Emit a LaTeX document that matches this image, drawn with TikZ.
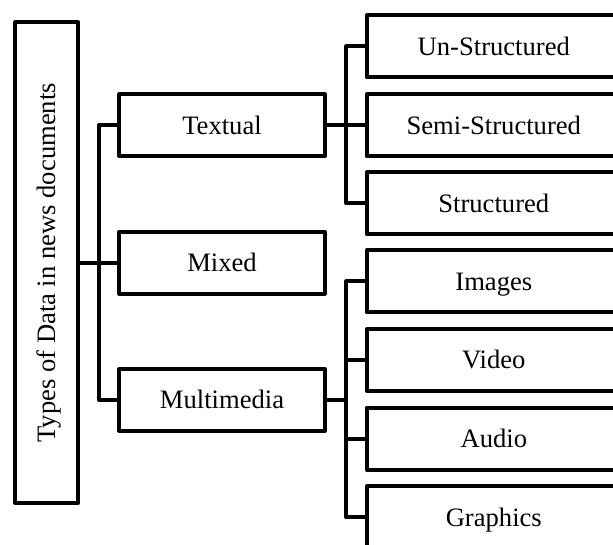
\documentclass[tikz,border=0pt]{standalone}
\usepackage{fontspec}
\setmainfont{Liberation Serif}
\begin{document}
\begin{tikzpicture}[x=1pt, y=-1pt, line width=4pt, line join=round,
  box/.style={draw=black, line width=4pt, inner sep=0pt, outer sep=0pt},
  lbl/.style={font=\fontsize{26.6}{30}\selectfont, inner sep=0pt, outer sep=0pt,
              text height=17.6pt, text depth=0pt},
  midbox/.style={box, lbl, minimum width=205.4pt, minimum height=62pt},
  leafbox/.style={box, lbl, minimum width=254.3pt, minimum height=62pt}]
  \useasboundingbox (0,0) rectangle (613,544);
  \clip (0,0) rectangle (613,544);

  % root
  \node[box, minimum width=62.7pt, minimum height=480.7pt] (root) at (46.6,262.8) {};
  \node[lbl, rotate=90] (rootlabel) at (root.center) {Types of Data in news documents};

  % second level
  \node[midbox] (tex) at (222,125.2) {Textual};
  \node[midbox] (mix) at (222,262.8) {Mixed};
  \node[midbox] (mul) at (222,399.9) {Multimedia};

  % leaves
  \node[leafbox] (un)   at (493.8,46.3)  {Un-Structured};
  \node[leafbox] (semi) at (493.8,125.2) {Semi-Structured};
  \node[leafbox] (str)  at (493.8,203.3) {Structured};
  \node[leafbox] (img)  at (493.8,281.3) {Images};
  \node[leafbox] (vid)  at (493.8,360.0) {Video};
  \node[leafbox] (aud)  at (493.8,438.6) {Audio};
  \node[leafbox] (gra)  at (493.8,517.2) {Graphics};

  % root to second level
  \coordinate (j1) at (98.7,262.8);
  \draw (root.east) -- (mix.west);
  \draw (tex.west) -| (j1) |- (mul.west);

  % textual branch
  \coordinate (j2) at (346.3,125.2);
  \draw (tex.east) -- (semi.west);
  \draw (un.west) -| (j2) |- (str.west);

  % multimedia branch
  \coordinate (j3) at (346.3,399.9);
  \draw (mul.east) -- (j3);
  \draw (img.west) -| (j3) |- (gra.west);
  \draw (vid.west) -- (vid.west -| j3);
  \draw (aud.west) -- (aud.west -| j3);
\end{tikzpicture}
\end{document}
